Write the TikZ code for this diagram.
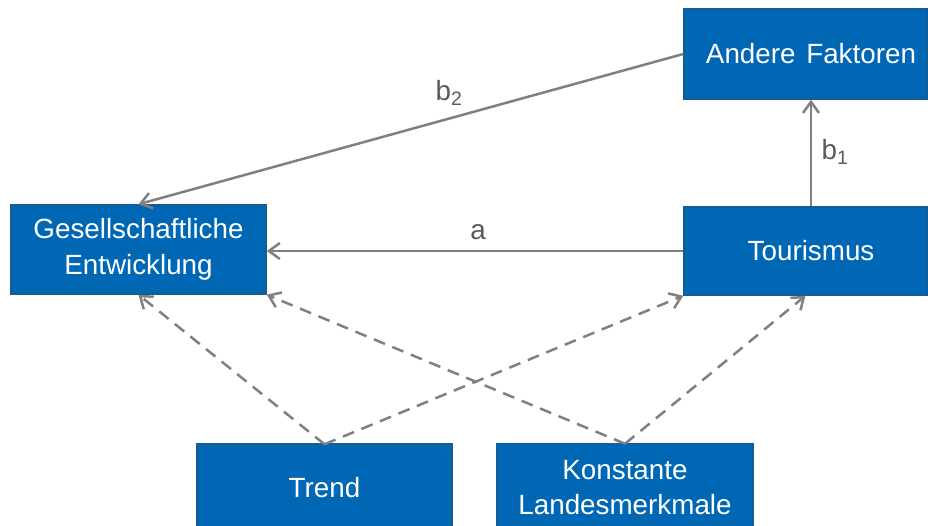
\documentclass[tikz,border=0pt]{standalone}
\usepackage{fontspec}
\setmainfont{Liberation Sans}
\usetikzlibrary{arrows.meta,calc}
\definecolor{boxblue}{HTML}{0067B4}
\definecolor{boxedge}{HTML}{185A92}
\definecolor{linegray}{HTML}{808080}
\definecolor{labgray}{HTML}{595959}
\tikzset{
  blockbox/.style={draw=boxedge, line width=1.5pt, fill=boxblue, text=white,
    font=\fontsize{27.8}{35.5}\selectfont, align=center, inner sep=0pt},
  conn/.style={draw=linegray, line width=2.5pt,
    -{Straight Barb[length=11pt,width=16pt,line width=2.5pt]}},
  dconn/.style={conn, dash pattern=on 12pt off 8pt},
  lab/.style={text=labgray, font=\fontsize{27.8}{32}\selectfont, inner sep=0pt}
}
\begin{document}
\begin{tikzpicture}[x=1pt,y=-1pt]
\useasboundingbox (0,0) rectangle (928,526);
\node[blockbox, minimum width=243pt, minimum height=90pt] (andere) at (805.5,54) {\hspace*{11pt}Andere\hspace{3pt} Faktoren};
\node[blockbox, minimum width=243pt, minimum height=88pt] (tour) at (805.5,251) {\hspace*{11pt}Tourismus};
\node[blockbox, minimum width=255pt, minimum height=89pt] (ges) at (138.5,249.5) {Gesellschaftliche\\Entwicklung};
\node[blockbox, minimum width=255pt, minimum height=88pt] (trend) at (324.5,488) {Trend};
\node[blockbox, minimum width=256pt, minimum height=88pt] (konst) at (625,487.5) {Konstante\\Landesmerkmale};
\coordinate (tourtop) at ($(tour.north)+(5.5,0)$);
\coordinate (andbot) at ($(andere.south)+(5.5,0)$);
\draw[conn] (andere.west) -- (ges.north);
\draw[conn] (tour.west) -- (tour.west -| ges.east);
\draw[conn] (tourtop) -- (andbot);
\draw[dconn] ($(trend.north)+(0,1)$) -- (ges.south);
\draw[dconn] ($(trend.north)+(0,1)$) -- (tour.south west);
\draw[dconn] ($(konst.north)+(0,1)$) -- (ges.south east);
\draw[dconn] ($(konst.north)+(0,1)$) -- (tour.south);
\node[lab] (lb2) at (449,93) {b\textsubscript{2}};
\node[lab] (la) at (478,232) {a};
\node[lab] (lb1) at (835,152) {b\textsubscript{1}};
\end{tikzpicture}
\end{document}
